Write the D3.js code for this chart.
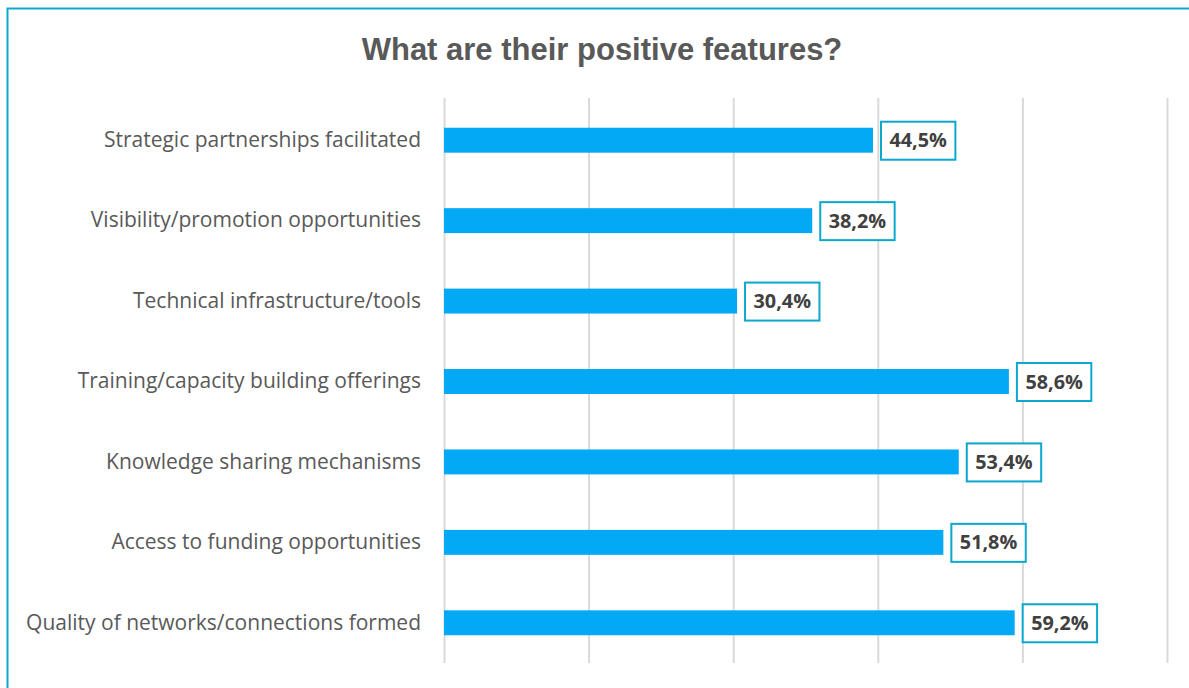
<!DOCTYPE html>
<html>
<head>
<meta charset="utf-8">
<script src="https://cdn.jsdelivr.net/npm/d3@7"></script>
<style>
  html, body { margin: 0; padding: 0; background: #fff; }
  svg { display: block; }
</style>
</head>
<body>
<svg id="chart" width="1189" height="688"></svg>
<script>
// Survey results: share of respondents naming each positive feature
const categories = [
  "Strategic partnerships facilitated",
  "Visibility/promotion opportunities",
  "Technical infrastructure/tools",
  "Training/capacity building offerings",
  "Knowledge sharing mechanisms",
  "Access to funding opportunities",
  "Quality of networks/connections formed"
];
const values = [44.5, 38.2, 30.4, 58.6, 53.4, 51.8, 59.2];
const gridTicks = [0, 15, 30, 45, 60, 75];
const titleText = "What are their positive features?";

const svg = d3.select("#chart");
const W = 1189, H = 688;
const margin = { left: 444, right: 22, top: 100, bottom: 25 };

// outer frame (runs past the right and bottom edges)
svg.append("rect")
  .attr("x", 7.5).attr("y", 8.5)
  .attr("width", W + 20).attr("height", H)
  .attr("fill", "#fff")
  .attr("stroke", "#0AA8CF").attr("stroke-width", 2);

svg.append("text")
  .attr("x", 602).attr("y", 60)
  .attr("text-anchor", "middle")
  .attr("font-family", "'Liberation Sans', Arial, sans-serif")
  .attr("font-weight", "bold")
  .attr("font-size", 31)
  .attr("fill", "#595959")
  .text(titleText);

const x = d3.scaleLinear().domain([0, 75]).range([margin.left, 1167]);
const y = d3.scaleBand().domain(categories)
  .range([margin.top, H - margin.bottom])
  .paddingInner(0.69).paddingOuter(0.345);

// vertical gridlines
const grid = svg.append("g")
  .attr("transform", `translate(0,${H - margin.bottom})`)
  .call(d3.axisBottom(x).tickValues(gridTicks)
    .tickSize(-(H - margin.bottom - margin.top + 2)).tickFormat(""));
grid.select(".domain").remove();
grid.selectAll(".tick line").attr("stroke", "#D9D9D9").attr("stroke-width", 2);

// category labels
const yAxis = svg.append("g")
  .attr("transform", `translate(${margin.left},0)`)
  .call(d3.axisLeft(y).tickSize(0).tickPadding(23));
yAxis.select(".domain").remove();
yAxis.selectAll("text")
  .attr("font-family", "'Open Sans', sans-serif")
  .attr("font-size", 21)
  .attr("fill", "#595959");

// bars
svg.append("g").selectAll("rect")
  .data(values)
  .join("rect")
  .attr("x", x(0))
  .attr("y", (d, i) => y(categories[i]))
  .attr("width", d => x(d) - x(0))
  .attr("height", y.bandwidth())
  .attr("fill", "#03A9F4");

// value labels in outlined boxes
const fmt = v => v.toFixed(1).replace(".", ",") + "%";
const lab = svg.append("g").selectAll("g")
  .data(values)
  .join("g")
  .attr("transform", (d, i) => `translate(${x(d) + 8},${y(categories[i]) + y.bandwidth() / 2})`);
lab.append("rect")
  .attr("fill", "#fff")
  .attr("stroke", "#0AA8CF")
  .attr("stroke-width", 2);
lab.append("text")
  .attr("font-family", "'Open Sans', sans-serif")
  .attr("font-weight", "bold")
  .attr("font-size", 19.8)
  .attr("fill", "#404040")
  .attr("dy", "0.36em")
  .text(fmt);
lab.each(function() {
  const g = d3.select(this);
  const t = g.select("text");
  const w = t.node().getComputedTextLength();
  const padX = 8.5;
  t.attr("x", padX);
  g.select("rect")
    .attr("x", 0).attr("y", -18.5)
    .attr("width", w + padX * 2).attr("height", 38);
});
</script>
</body>
</html>
